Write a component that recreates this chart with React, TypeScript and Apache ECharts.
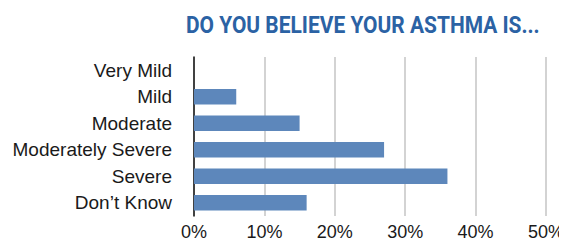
import React, { useEffect, useRef } from "react";
import * as echarts from "echarts";

const categories = ["Very Mild", "Mild", "Moderate", "Moderately Severe", "Severe", "Don’t Know"];
const values = [0, 6, 15, 27, 36, 16];
const titleText = "DO YOU BELIEVE YOUR ASTHMA IS...";

const TITLE_FONT = "bold 24px Roboto, 'DejaVu Sans', sans-serif";

function measure(text: string, font: string): number {
  const c = document.createElement("canvas").getContext("2d");
  if (!c) return 420;
  c.font = font;
  return c.measureText(text).width;
}

export default function App() {
  const ref = useRef<HTMLDivElement>(null);
  useEffect(() => {
    const chart = echarts.init(ref.current!, null, { renderer: "svg" });
    const w = measure(titleText, TITLE_FONT);
    const sx = 354 / w;
    chart.setOption({
      animation: false,
      graphic: [
        {
          type: "text",
          x: 186,
          y: 12,
          scaleX: sx,
          style: {
            text: titleText,
            font: TITLE_FONT,
            fill: "#2b62a4",
          },
        },
      ],
      grid: { left: 194, right: 20, top: 57, bottom: 26, containLabel: false },
      xAxis: {
        type: "value",
        min: 0,
        max: 50,
        interval: 10,
        axisLabel: {
          formatter: "{value}%",
          fontFamily: "Helvetica, Arial, 'Liberation Sans', sans-serif",
          fontSize: 18,
          color: "#1a1a1a",
          margin: 7,
        },
        axisLine: { show: false },
        axisTick: { show: false },
        splitLine: { show: true, lineStyle: { color: "#c4c4c4", width: 1.5 } },
      },
      yAxis: {
        type: "category",
        inverse: true,
        data: categories,
        axisLabel: {
          fontFamily: "Helvetica, Arial, 'Liberation Sans', sans-serif",
          fontSize: 19,
          color: "#1a1a1a",
          margin: 22,
        },
        axisLine: { show: true, lineStyle: { color: "#111", width: 1.5 } },
        axisTick: { show: false },
      },
      series: [
        {
          type: "bar",
          data: values,
          barWidth: "58%",
          itemStyle: { color: "#5d87bb" },
        },
      ],
    });
    return () => chart.dispose();
  }, []);
  return <div ref={ref} style={{ width: 567, height: 242, marginLeft: -8, marginTop: -8 }} />;
}
